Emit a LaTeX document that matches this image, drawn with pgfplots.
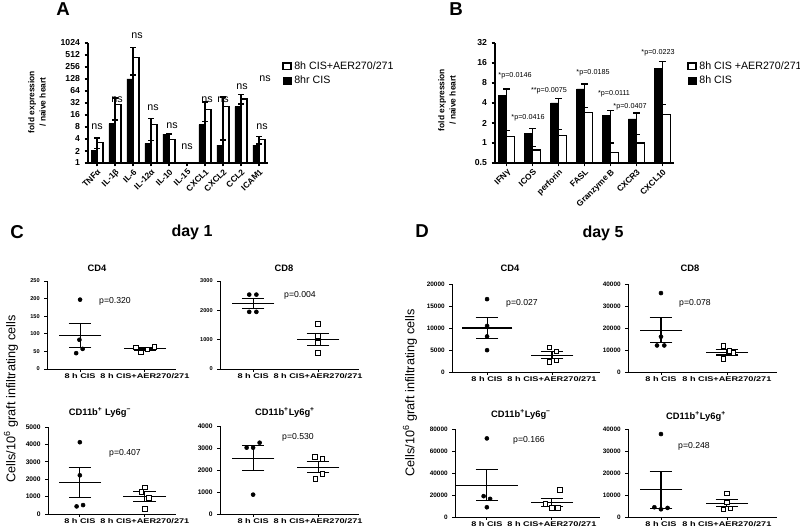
\documentclass[border=0pt]{standalone}
\usepackage{fontspec}
\setmainfont{Liberation Sans}
\newfontfamily\widesans[FakeStretch=1.35]{Liberation Sans}
\usepackage{pgfplots}
\usepackage{pgfplotstable}
\pgfplotsset{compat=1.18}
\pgfkeys{/pgf/number format/1000 sep={}}

% panel A: fold expression (white = 8h CIS+AER270/271, black = 8hr CIS)
\pgfplotstableread{
x y e
0 3.3 0.9
1 29 14
2 450 350
3 9.4 3.6
4 3.9 1.2
6 22 12
7 26 19
8 40 12
9 3.9 0.8
}\Awhite
\pgfplotstableread{
x y e
0 2.1 0.25
1 9.7 2.3
2 128 32
3 3.1 0.6
4 5.3 0.3
6 9.2 1.8
7 2.8 1.0
8 26 4
9 2.8 0.2
}\Ablack
% panel B
\pgfplotstableread{
x y e
0 1.26 0.29
1 0.78 0.10
2 1.29 0.30
3 2.9 0.5
4 0.72 0.28
5 1.0 0.33
6 2.67 1.13
}\Bwhite
\pgfplotstableread{
x y e
0 5.16 1.34
1 1.38 0.27
2 4.0 0.7
3 6.5 1.2
4 2.58 0.52
5 2.3 0.53
6 13.1 3.9
}\Bblack

\pgfplotsset{
  gp/.style={scale only axis, anchor=south west, clip=false,
    axis lines*=left, tick pos=left, tick align=outside,
    axis line style={line width=0.8pt}, major tick style={line width=0.8pt, black},
    major tick length=2.5pt},
  barax/.style={gp, width=135pt, height=90pt,
    y tick label style={font=\bfseries\fontsize{6.5}{7}\selectfont},
    x tick label style={font=\bfseries\fontsize{6.3}{7}\selectfont, rotate=45, anchor=north east, inner sep=1pt},
    legend style={draw=none, fill=none, inner sep=0pt, row sep=-0.5pt,
      font=\fontsize{8}{9}\selectfont, cells={anchor=west}}},
  sc/.style={gp, ymin=0, height=66pt, xtick={1,2}, xticklabels={8 h CIS,8 h CIS+AER270/271},
    x tick label style={font=\widesans\bfseries\fontsize{5.1}{6}\selectfont, inner sep=1.2pt},
    scaled y ticks=false, axis line style={line width=0.6pt},
    major tick style={line width=0.6pt}, major tick length=2pt},
  dots/.style={only marks, mark=*, mark size=1.5pt, black},
  sqs/.style={only marks, mark=square*, mark size=1.7pt, black,
    mark options={fill=white, line width=0.6pt}},
  mean/.style={only marks, mark=-, mark size=#1, black, mark options={line width=0.8pt},
    error bars/.cd, y dir=both, y explicit, error bar style={line width=0.8pt, black},
    error mark options={rotate=90, mark size=8.5pt, line width=0.8pt, black}},
  mean/.default=16pt,
  wbar/.style={ybar, bar width=#1, fill=white, draw=black, line width=1pt},
  bbar/.style={ybar, bar width=#1, fill=black, draw=black, line width=0.6pt},
}

\begin{document}
\begin{tikzpicture}
\useasboundingbox (0,0) rectangle (600pt,396pt);

% ---------- A ----------
\begin{axis}[barax, at={(66pt,273.75pt)},
  ymode=log, log basis y=2, log origin=infty,
  /pgf/number format/assume math mode=true,
  ymin=1, ymax=1024, ytick={1,2,4,8,16,32,64,128,256,512,1024},
  yticklabels={1,2,4,8,16,32,64,128,256,512,1024},
  xmin=-0.5, xmax=9.5, xtick={0,...,9},
  xticklabels={TNFα,IL-1β,IL-6,IL-12α,IL-10,IL-15,CXCL1,CXCL2,CCL2,ICAM1},
  legend image code/.code={\draw[#1] (0pt,-2.5pt) rectangle (6pt,2.5pt);},
  legend style={at={(axis description cs:1.078,0.87)}, anchor=north west}]
\addplot[wbar=4.5pt, bar shift=2.25pt,
  error bars/.cd, y dir=plus, y explicit, error bar style={black, line width=1pt},
  error mark options={rotate=90, black, mark size=2pt, line width=1pt}]
  table[x=x, y=y, y error=e] {\Awhite};
\addlegendentry{8h CIS+AER270/271}
\addplot[bbar=4.5pt, bar shift=-2.25pt,
  error bars/.cd, y dir=plus, y explicit, error bar style={black, line width=1pt},
  error mark options={rotate=90, black, mark size=2pt, line width=1pt}]
  table[x=x, y=y, y error=e] {\Ablack};
\addlegendentry{8hr CIS}
\end{axis}

% ---------- B ----------
\begin{axis}[barax, at={(371.25pt,273.75pt)}, width=134.25pt,
  ymode=log, log basis y=2, log origin=infty,
  /pgf/number format/assume math mode=true,
  ymin=0.5, ymax=32, ytick={0.5,1,2,4,8,16,32},
  yticklabels={0.5,1,2,4,8,16,32},
  xmin=-0.45, xmax=6.45, xtick={0,...,6},
  xticklabels={IFNγ,ICOS,perforin,FASL,Granzyme B,CXCR3,CXCL10},
  legend image code/.code={\draw[#1] (0pt,-2.5pt) rectangle (6pt,2.5pt);},
  legend style={at={(axis description cs:1.073,0.87)}, anchor=north west}]
\addplot[wbar=6pt, bar shift=3pt,
  error bars/.cd, y dir=plus, y explicit, error bar style={black, line width=1pt},
  error mark options={rotate=90, black, mark size=2.5pt, line width=1pt}]
  table[x=x, y=y, y error=e] {\Bwhite};
\addlegendentry{8h CIS +AER270/271}
\addplot[bbar=6pt, bar shift=-3pt,
  error bars/.cd, y dir=plus, y explicit, error bar style={black, line width=1pt},
  error mark options={rotate=90, black, mark size=2.5pt, line width=1pt}]
  table[x=x, y=y, y error=e] {\Bblack};
\addlegendentry{8h CIS}
\end{axis}

% ---------- C, day 1 ----------
\begin{axis}[sc, at={(35.25pt,119.25pt)}, width=96.75pt, xmin=0.49, xmax=2.48,
  /pgf/number format/assume math mode=true,
  ymax=250, ytick={0,50,...,250},
  y tick label style={font=\bfseries\fontsize{4.2}{5}\selectfont}]
\addplot[mean] coordinates {(1,95) +- (0,35)};
\addplot[mean] coordinates {(2,57) +- (0,3)};
\addplot[dots] coordinates {(1,197) (0.99,83) (1.04,57) (0.94,45)};
\addplot[sqs] coordinates {(1.86,62) (1.94,47) (2.04,56) (2.15,63)};
\end{axis}
\begin{axis}[sc, at={(165pt,119.25pt)}, width=104.25pt, xmin=0.49, xmax=2.63,
  /pgf/number format/assume math mode=true,
  ymax=3000, ytick={0,1000,2000,3000},
  y tick label style={font=\bfseries\fontsize{4.2}{5}\selectfont}]
\addplot[mean] coordinates {(1,2230) +- (0,170)};
\addplot[mean] coordinates {(2,1010) +- (0,215)};
\addplot[dots] coordinates {(0.94,2536) (1.05,2536) (0.94,1947) (1.05,1947)};
\addplot[sqs] coordinates {(2,1540) (2,1120) (2,894) (2,555)};
\end{axis}
\begin{axis}[sc, at={(36pt,10.5pt)}, width=96pt, height=65.25pt, xmin=0.51, xmax=2.48,
  /pgf/number format/assume math mode=true,
  ymax=5000, ytick={0,1000,...,5000},
  y tick label style={font=\bfseries\fontsize{5}{6}\selectfont}]
\addplot[mean] coordinates {(1,1820) +- (0,865)};
\addplot[mean] coordinates {(2,1000) +- (0,280)};
\addplot[dots] coordinates {(1,4125) (1,2225) (1.05,513) (0.95,437)};
\addplot[sqs] coordinates {(2,1540) (1.95,1270) (2.06,910) (2,285)};
\end{axis}
\begin{axis}[sc, at={(165pt,10.5pt)}, width=104.25pt, xmin=0.49, xmax=2.63,
  /pgf/number format/assume math mode=true,
  ymax=4000, ytick={0,1000,...,4000},
  y tick label style={font=\bfseries\fontsize{5}{6}\selectfont}]
\addplot[mean] coordinates {(1,2540) +- (0,560)};
\addplot[mean] coordinates {(2,2120) +- (0,250)};
\addplot[dots] coordinates {(0.9,3015) (1,3015) (1.1,3240) (1,880)};
\addplot[sqs] coordinates {(1.95,2600) (2.07,2515) (2.07,1820) (1.96,1590)};
\end{axis}

% ---------- D, day 5 ----------
\begin{axis}[sc, at={(339pt,117pt)}, width=111pt, xmin=0.46, xmax=2.74,
  /pgf/number format/assume math mode=true,
  ymax=20000, ytick={0,5000,...,20000},
  y tick label style={font=\bfseries\fontsize{4.8}{5}\selectfont}]
\addplot[mean=19pt] coordinates {(1,10000) +- (0,2480)};
\addplot[mean] coordinates {(2,3820) +- (0,800)};
\addplot[dots] coordinates {(1,16560) (1,10460) (1,8090) (1,4960)};
\addplot[sqs] coordinates {(1.96,5570) (2.07,4730) (2.07,2670) (1.96,2290)};
\end{axis}
\begin{axis}[sc, at={(471pt,117pt)}, width=111.75pt, xmin=0.5, xmax=2.76,
  /pgf/number format/assume math mode=true,
  ymax=40000, ytick={0,10000,...,40000},
  y tick label style={font=\bfseries\fontsize{4.8}{5}\selectfont}]
\addplot[mean] coordinates {(1,18950) +- (0,5700)};
\addplot[mean] coordinates {(2,8970) +- (0,1250)};
\addplot[dots] coordinates {(1,35880) (1,16030) (0.94,12060) (1.05,12060)};
\addplot[sqs] coordinates {(1.95,11760) (2.04,9470) (2.1,8700) (1.95,5950)};
\end{axis}
\begin{axis}[sc, at={(341.25pt,8.25pt)}, width=108.75pt, xmin=0.51, xmax=2.74,
  /pgf/number format/assume math mode=true,
  ymax=80000, ytick={0,20000,...,80000},
  y tick label style={font=\bfseries\fontsize{4.8}{5}\selectfont}]
\addplot[mean=23pt] coordinates {(1,28930) +- (0,14200)};
\addplot[mean] coordinates {(2,13200) +- (0,3800)};
\addplot[dots] coordinates {(1,71450) (0.95,18930) (1.05,16490) (1,8850)};
\addplot[sqs] coordinates {(2.12,24430) (1.9,11900) (2,8240) (2.09,8240)};
\end{axis}
\begin{axis}[sc, at={(471pt,8.25pt)}, width=111.75pt, xmin=0.5, xmax=2.76,
  /pgf/number format/assume math mode=true,
  ymax=40000, ytick={0,10000,...,40000},
  y tick label style={font=\bfseries\fontsize{4.8}{5}\selectfont}]
\addplot[mean] coordinates {(1,12440) +- (0,8400)};
\addplot[mean] coordinates {(2,6220) +- (0,1650)};
\addplot[dots] coordinates {(1,37710) (0.9,4430) (1,3510) (1.1,4120)};
\addplot[sqs] coordinates {(2,10690) (2,6720) (1.95,3510) (2.05,3970)};
\end{axis}

% ---------- labels (pixel coordinates of the 800x528 image) ----------
\begin{scope}[x=0.75pt, y=-0.75pt, yshift=396pt]
\tikzset{letter/.style={font=\bfseries\fontsize{14}{14}\selectfont},
  ns/.style={font=\fontsize{8}{9}\selectfont},
  pv/.style={font=\fontsize{5.4}{6}\selectfont},
  ps/.style={font=\fontsize{6.5}{7}\selectfont},
  ttl/.style={font=\bfseries\fontsize{7}{8}\selectfont},
  ylab/.style={rotate=90, align=center, font=\bfseries\fontsize{6.3}{8.5}\selectfont},
  clab/.style={rotate=90, font=\fontsize{9.5}{10}\selectfont}}
\node[letter] at (63,9) {A};
\node[letter] at (456,9) {B};
\node[letter] at (17,232) {C};
\node[letter] at (422,231) {D};
\node[font=\bfseries\fontsize{12}{12}\selectfont] at (192,232) {day 1};
\node[font=\bfseries\fontsize{12}{12}\selectfont] at (603,233) {day 5};
\node[ylab] at (37,102) {fold expression\\/ naive heart};
\node[ylab] at (447,100) {fold expression\\/ naive heart};
% ns labels of A
\foreach \px/\py in {97/127,117/100,137/36,153/108,172/126,187/147,207/100,223/100,242/87,262/127,265/79}
  \node[ns] at (\px,\py) {ns};
% p labels of B
\node[pv] at (515,76) {*p=0.0146};
\node[pv] at (528,118) {*p=0.0416};
\node[pv] at (549,91) {**p=0.0075};
\node[pv] at (593,73) {*p=0.0185};
\node[pv] at (614,94) {*p=0.0111};
\node[pv] at (630,107) {*p=0.0407};
\node[pv] at (658,53) {*p=0.0223};
% scatter titles and p values
\node[ttl] at (97,268) {CD4};
\node[ttl] at (284,268) {CD8};
\node[ttl] at (100,413) {CD11b\textsuperscript{+} Ly6g\textsuperscript{−}};
\node[ttl] at (285,413) {CD11b\textsuperscript{+}Ly6g\textsuperscript{+}};
\node[ttl] at (510,268) {CD4};
\node[ttl] at (690,268) {CD8};
\node[ttl] at (521,415) {CD11b\textsuperscript{+}Ly6g\textsuperscript{−}};
\node[ttl] at (696,417) {CD11b\textsuperscript{+}Ly6g\textsuperscript{+}};
\node[ps] at (115,301) {p=0.320};
\node[ps] at (300,295) {p=0.004};
\node[ps] at (125,453) {p=0.407};
\node[ps] at (298,437) {p=0.530};
\node[ps] at (522,303) {p=0.027};
\node[ps] at (695,303) {p=0.078};
\node[ps] at (529,440) {p=0.166};
\node[ps] at (694,446) {p=0.248};
\node[clab] at (11,399) {Cells/10\textsuperscript{6} graft infiltrating cells};
\node[clab] at (410,393) {Cells/10\textsuperscript{6} graft infiltrating cells};
\end{scope}
\end{tikzpicture}
\end{document}
